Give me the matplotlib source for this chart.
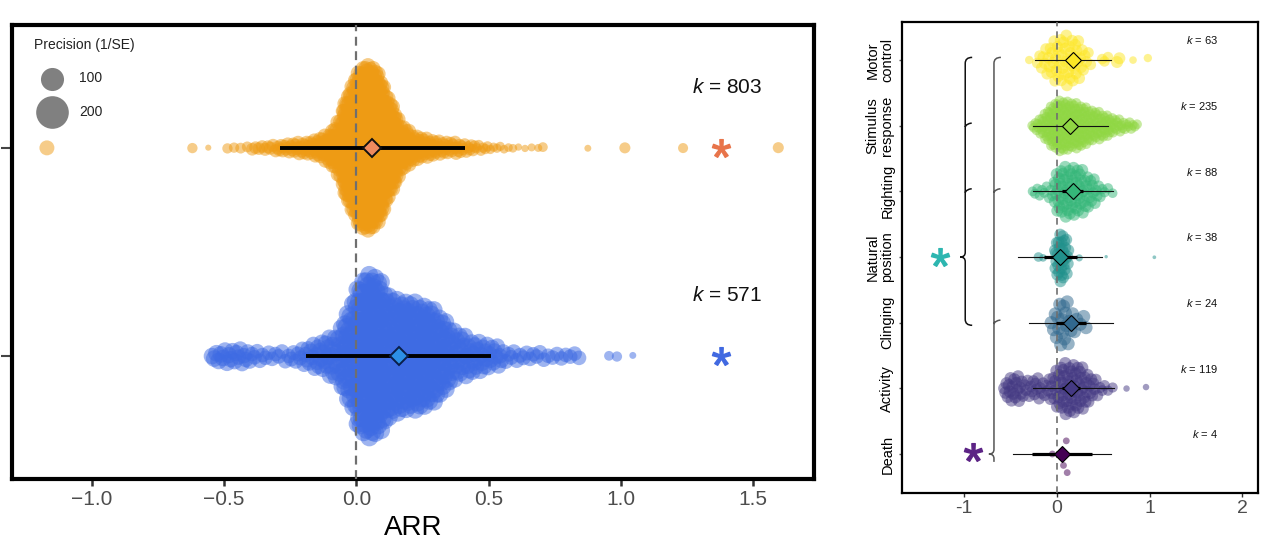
import numpy as np
import matplotlib
matplotlib.use('Agg')
import matplotlib.pyplot as plt
from matplotlib.path import Path
from matplotlib.patches import PathPatch

plt.rcParams['font.family'] = ['Liberation Sans', 'DejaVu Sans']
plt.rcParams['mathtext.fontset'] = 'custom'
plt.rcParams['mathtext.it'] = 'Liberation Sans:italic'
plt.rcParams['mathtext.rm'] = 'Liberation Sans'

BIN = 0.05

# ---- left panel: overall effects (bin centre, count, precision 1/SE) ----
orange_x = [-1.17, -0.62, -0.56, -0.475, -0.425, -0.375, -0.325, -0.275, -0.225, -0.175,
            -0.125, -0.075, -0.025, 0.025, 0.075, 0.125, 0.175, 0.225, 0.275, 0.325,
            0.375, 0.425, 0.475, 0.525, 0.575, 0.625, 0.675, 0.705, 0.875, 1.015, 1.235, 1.595]
orange_n = [1, 1, 1, 2, 2, 4, 5, 8, 11, 14, 22, 40, 120, 173, 165, 95, 40, 25, 18, 14,
            12, 8, 6, 4, 3, 2, 2, 1, 1, 1, 1, 1]
orange_p = [42, 20, 7, 20, 22, 30, 32, 35, 35, 35, 38, 40, 42, 42, 42, 42, 40, 35, 35, 30,
            30, 28, 20, 16, 14, 10, 12, 18, 9, 23, 19, 23]

blue_x = [-0.525, -0.475, -0.425, -0.375, -0.325, -0.275, -0.225, -0.175, -0.125, -0.075,
          -0.025, 0.025, 0.075, 0.125, 0.175, 0.225, 0.275, 0.325, 0.375, 0.425,
          0.475, 0.525, 0.575, 0.625, 0.675, 0.725, 0.775, 0.825, 0.955, 0.985, 1.045]
blue_n = [6, 7, 7, 5, 4, 4, 6, 10, 14, 18, 40, 72, 72, 50, 48, 46, 44, 34, 20, 16,
          13, 10, 5, 4, 4, 3, 3, 3, 1, 1, 1]
blue_p = [52, 50, 45, 40, 40, 40, 42, 45, 50, 55, 60, 60, 60, 60, 60, 60, 58, 55, 55, 50,
          50, 45, 42, 42, 40, 40, 40, 40, 18, 20, 9]

left_k = [571, 803]
left_mean = [0.16, 0.06]
left_lo = [-0.19, -0.29]
left_hi = [0.51, 0.41]
left_xticks = [-1.0, -0.5, 0.0, 0.5, 1.0, 1.5]
left_xlabels = ['\u22121.0', '\u22120.5', '0.0', '0.5', '1.0', '1.5']
legend_prec = [100, 200]

# ---- right panel: by response category (top to bottom) ----
cats = ['Motor\ncontrol', 'Stimulus\nresponse', 'Righting', 'Natural\nposition',
        'Clinging', 'Activity', 'Death']
cat_k = [63, 235, 88, 38, 24, 119, 4]
cat_mean = [0.17, 0.14, 0.17, 0.03, 0.15, 0.15, 0.05]
cat_ci_lo = [0.10, 0.10, 0.05, -0.14, -0.01, 0.05, -0.27]
cat_ci_hi = [0.25, 0.19, 0.28, 0.22, 0.31, 0.25, 0.38]
cat_pi_lo = [-0.24, -0.26, -0.26, -0.42, -0.30, -0.26, -0.47]
cat_pi_hi = [0.58, 0.55, 0.60, 0.48, 0.60, 0.61, 0.58]
cat_colors = ['#FDE725', '#90D743', '#35B779', '#21918C', '#31688E', '#443983', '#440154']
right_xticks = [-1, 0, 1, 2]
right_xlabels = ['-1', '0', '1', '2']

motor_x = [-0.30, -0.2, -0.15, -0.1, -0.05, 0.0, 0.05, 0.1, 0.15, 0.2, 0.25, 0.3, 0.35,
           0.5, 0.55, 0.66, 0.82, 0.98]
motor_n = [1, 2, 3, 4, 5, 6, 6, 7, 6, 6, 5, 3, 2, 2, 1, 2, 1, 1]
motor_p = [30, 50, 55, 58, 58, 58, 58, 58, 58, 58, 58, 55, 52, 48, 48, 62, 25, 30]

stim_x = [-0.25, -0.2, -0.15, -0.1, -0.05, 0.0, 0.05, 0.1, 0.15, 0.2, 0.25, 0.3, 0.35,
          0.4, 0.45, 0.5, 0.55, 0.6, 0.65, 0.7, 0.75, 0.8, 0.85]
stim_n = [3, 5, 8, 12, 16, 18, 19, 18, 17, 16, 16, 14, 12, 11, 10, 9, 8, 6, 5, 4, 3, 3, 2]
stim_p = 42

right_x = [-0.25, -0.2, -0.15, -0.1, -0.05, 0.0, 0.05, 0.1, 0.15, 0.2, 0.25, 0.3, 0.35,
           0.4, 0.45, 0.5, 0.55, 0.6]
right_n = [2, 2, 2, 2, 3, 8, 9, 9, 9, 9, 8, 7, 6, 5, 3, 2, 1, 1]
right_p = [42, 42, 42, 42, 48, 62, 62, 62, 62, 62, 62, 60, 55, 55, 50, 45, 45, 40]

nat_x = [-0.2, -0.15, 0.0, 0.05, 0.1, 0.24, 0.53, 1.05]
nat_n = [1, 1, 10, 14, 9, 1, 1, 1]
nat_p = [40, 25, 60, 60, 60, 22, 5, 6]

cling_x = [-0.05, 0.0, 0.05, 0.1, 0.15, 0.2, 0.25, 0.3]
cling_n = [2, 4, 5, 5, 3, 2, 1, 2]
cling_p = 75

act_x = [-0.55, -0.5, -0.45, -0.4, -0.35, -0.3, -0.25, -0.2, -0.15, -0.1, -0.05, 0.0,
         0.05, 0.1, 0.15, 0.2, 0.25, 0.3, 0.35, 0.4, 0.45, 0.5, 0.55, 0.6, 0.75, 0.96]
act_n = [4, 5, 5, 5, 3, 3, 4, 4, 3, 3, 5, 7, 9, 9, 9, 9, 8, 7, 5, 4, 2, 2, 1, 1, 1, 1]
act_p = [65, 65, 65, 62, 58, 58, 58, 58, 58, 58, 60, 62, 65, 65, 65, 65, 65, 62, 60, 58,
         55, 50, 45, 45, 18, 18]

death_x = [-0.05, 0.07, 0.10, 0.11]
death_n = [1, 1, 1, 1]
death_p = 20


def vdc(n):
    # van der Corput sequence, as used by quasirandom beeswarms
    out = np.zeros(n)
    for i in range(n):
        k, denom, v = i + 1, 1.0, 0.0
        while k:
            k, r = divmod(k, 2)
            denom *= 2
            v += r / denom
        out[i] = v
    return out


def swarm(centers, counts, prec, bw, width=0.4):
    if np.isscalar(prec):
        prec = [prec] * len(centers)
    xs, ps = [], []
    for c, n, p in zip(centers, counts, prec):
        offs = [0.0] if n == 1 else BIN * ((np.arange(n) + 0.5) / n - 0.5)
        for o in offs:
            xs.append(c + o)
            ps.append(p)
    xs = np.array(xs)
    dens = np.exp(-0.5 * ((xs[:, None] - xs[None, :]) / bw) ** 2).sum(axis=1)
    dens = dens / dens.max()
    order = np.argsort(xs, kind='stable')
    q = np.empty(len(xs))
    q[order] = vdc(len(xs))
    return xs, (q * 2 - 1) * width * dens, np.array(ps)


def brace(ax, x, top, bottom, tip, hooks, color):
    hx, hy = 0.075, 0.04
    verts = [(x + hx, top + hy), (x, top + hy), (x, top - 0.05), (x, tip + 0.07),
             (x, tip), (x - 0.055, tip), (x, tip), (x, tip - 0.07)]
    codes = [Path.MOVETO, Path.CURVE3, Path.CURVE3, Path.LINETO,
             Path.CURVE3, Path.CURVE3, Path.CURVE3, Path.CURVE3]
    if bottom < tip:
        verts += [(x, bottom + 0.05), (x, bottom - hy), (x + hx, bottom - hy)]
        codes += [Path.LINETO, Path.CURVE3, Path.CURVE3]
    else:
        verts += [(x, tip - 0.12)]
        codes += [Path.LINETO]
    for yh in hooks:
        verts += [(x, yh - 0.02), (x + 0.01, yh + 0.03), (x + 0.07, yh + 0.04)]
        codes += [Path.MOVETO, Path.CURVE3, Path.CURVE3]
    ax.add_patch(PathPatch(Path(verts, codes), fill=False, edgecolor=color, lw=1.1))


fig = plt.figure(figsize=(12.8, 5.45), dpi=100)

# ================= left panel =================
ax1 = fig.add_axes([12 / 1280, 1 - 479 / 545, 802 / 1280, 454 / 545])
S_LEFT = 2.76
for row, (cx, cn, cp, col) in enumerate([(blue_x, blue_n, blue_p, '#3E6BE3'),
                                          (orange_x, orange_n, orange_p, '#EE9B14')], start=1):
    xs, yo, ps = swarm(cx, cn, cp, bw=0.025)
    ax1.scatter(xs, row + yo, s=S_LEFT * ps, color=col, alpha=0.5, linewidths=0, zorder=2)

ax1.axvline(0, color='#6F6F6F', lw=1.6, dashes=(4, 2.5), zorder=3)

diamond_fill = ['#2C8FE6', '#EE8A5E']
diamond_edge = ['#0A1F4A', '#111111']
star_cols = ['#4169E1', '#E8744A']
for i, row in enumerate([1, 2]):
    ax1.plot([left_lo[i], left_hi[i]], [row, row], color='black', lw=2.8,
             solid_capstyle='butt', zorder=4)
    ax1.plot(left_mean[i], row, marker='D', ms=9.5, mfc=diamond_fill[i],
             mec=diamond_edge[i], mew=1.4, zorder=5)
    ax1.plot(1.38, row, marker='$*$', ms=13, color=star_cols[i], zorder=5)
    ax1.text(1.40, row + 0.29, r'$k$ = %d' % left_k[i], fontsize=15, ha='center',
             va='center', color='#111111')

handles = [ax1.scatter([], [], s=S_LEFT * p, color='#808080', linewidths=0)
           for p in legend_prec]
leg = ax1.legend(handles, [str(p) for p in legend_prec], title='Precision (1/SE)',
                 loc='upper left', bbox_to_anchor=(0.027, 0.972), borderaxespad=0,
                 borderpad=0, frameon=False, fontsize=10, title_fontsize=10,
                 handlelength=2.6, handletextpad=0.65, labelspacing=1.4,
                 scatterpoints=1, alignment='left')
for t in leg.get_texts():
    t.set_color('#222222')
leg.get_title().set_color('#222222')

ax1.set_xlim(-1.302, 1.73)
ax1.set_ylim(0.41, 2.59)
ax1.set_xticks(left_xticks)
ax1.set_xticklabels(left_xlabels)
ax1.set_yticks([1, 2])
ax1.set_yticklabels(['', ''])
ax1.tick_params(axis='x', labelsize=15, labelcolor='#4D4D4D', color='#333333',
                length=5, width=1.8, pad=3)
ax1.tick_params(axis='y', color='#444444', length=8, width=1.5)
for sp in ax1.spines.values():
    sp.set_linewidth(3)
    sp.set_color('black')
ax1.set_xlabel('ARR', fontsize=20, labelpad=4)

# ================= right panel =================
ax2 = fig.add_axes([902 / 1280, 1 - 493 / 545, 356 / 1280, 471 / 545])
S_RIGHT = 1.2
groups = [(motor_x, motor_n, motor_p), (stim_x, stim_n, stim_p), (right_x, right_n, right_p),
          (nat_x, nat_n, nat_p), (cling_x, cling_n, cling_p), (act_x, act_n, act_p),
          (death_x, death_n, death_p)]
rows = [7, 6, 5, 4, 3, 2, 1]
for (cx, cn, cp), row, col in zip(groups, rows, cat_colors):
    xs, yo, ps = swarm(cx, cn, cp, bw=0.04)
    ax2.scatter(xs, row + yo, s=S_RIGHT * ps, color=col, alpha=0.5, linewidths=0, zorder=2)

ax2.axvline(0, color='#6F6F6F', lw=1.2, dashes=(4, 3), zorder=3)

for i, row in enumerate(rows):
    ax2.plot([cat_pi_lo[i], cat_pi_hi[i]], [row, row], color='#111111', lw=0.8, zorder=4)
    ax2.plot([cat_ci_lo[i], cat_ci_hi[i]], [row, row], color='black', lw=2.3,
             solid_capstyle='butt', zorder=4)
    ax2.plot(cat_mean[i], row, marker='D', ms=8.5, mfc=cat_colors[i], mec='black',
             mew=0.8, zorder=5)
    ax2.text(1.74, row + 0.3, r'$k$ = %d' % cat_k[i], fontsize=8, ha='right',
             va='center', color='#111111')

brace(ax2, -0.99, 7, 3, 4, [6, 5], '#111111')
brace(ax2, -0.68, 7, 1, 1, [5, 3], '#555555')
ax2.plot(-1.26, 4, marker='$*$', ms=13, color='#2DB6B0', zorder=5)
ax2.plot(-0.91, 1.03, marker='$*$', ms=13, color='#5C2385', zorder=5)

ax2.set_xlim(-1.672, 2.168)
ax2.set_ylim(0.406, 7.579)
ax2.set_xticks(right_xticks)
ax2.set_xticklabels(right_xlabels)
ax2.set_yticks(rows)
ax2.set_yticklabels(cats, rotation=90, va='center', ha='right', multialignment='center',
                    linespacing=1.05)
ax2.tick_params(axis='x', labelsize=14, labelcolor='#4D4D4D', color='#333333',
                length=3, width=1, pad=2)
ax2.tick_params(axis='y', labelsize=10.5, labelcolor='black', color='#555555',
                length=2.5, width=1, pad=3)
for sp in ax2.spines.values():
    sp.set_linewidth(1.6)
    sp.set_color('black')

fig.savefig('out.png', dpi=100)
